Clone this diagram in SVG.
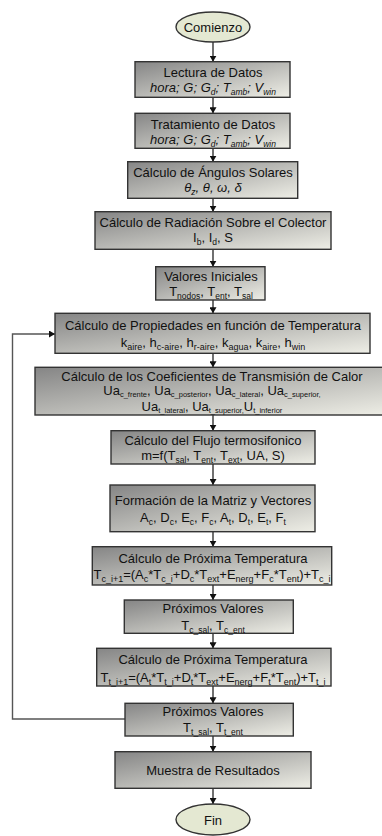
<svg xmlns="http://www.w3.org/2000/svg" width="382" height="836" viewBox="0 0 382 836">
<defs>
<linearGradient id="g" x1="0" y1="0" x2="1" y2="1">
<stop offset="0" stop-color="#858585"/>
<stop offset="1" stop-color="#eeeee6"/>
</linearGradient>
<marker id="ah" markerWidth="6" markerHeight="7" refX="6" refY="3.5" orient="auto" markerUnits="userSpaceOnUse">
<path d="M0,0 L6,3.5 L0,7 z" fill="#111"/>
</marker>
</defs>
<style>
.box{fill:url(#g);stroke:#333;stroke-width:1.4}
.term{fill:#e4e8d2;stroke:#333;stroke-width:1.4}
text{font-family:"Liberation Sans",Arial,sans-serif;font-size:13px;fill:#111;text-anchor:middle}
.it{font-style:italic}
.s{font-size:8.5px;baseline-shift:-3px}
.s7{font-size:7.5px;baseline-shift:-2px}
.s9{font-size:9px;baseline-shift:-3px}
.c{stroke:#111;stroke-width:1.2;fill:none;marker-end:url(#ah)}
.loop{stroke:#555;stroke-width:1.4;fill:none;marker-end:url(#ah)}
</style>
<g id="connectors">
<line class="c" x1="213" y1="42" x2="213" y2="61.7"/>
<line class="c" x1="213" y1="97.3" x2="213" y2="113.3"/>
<line class="c" x1="213" y1="148.3" x2="213" y2="161.7"/>
<line class="c" x1="213" y1="198.3" x2="213" y2="211.7"/>
<line class="c" x1="213" y1="249.3" x2="213" y2="266.7"/>
<line class="c" x1="213" y1="300" x2="213" y2="313.3"/>
<line class="c" x1="213" y1="353.3" x2="213" y2="367.3"/>
<line class="c" x1="213" y1="415" x2="213" y2="430.7"/>
<line class="c" x1="213" y1="464" x2="213" y2="485"/>
<line class="c" x1="213" y1="531.7" x2="213" y2="546.7"/>
<line class="c" x1="213" y1="585" x2="213" y2="600"/>
<line class="c" x1="213" y1="633.3" x2="213" y2="648.3"/>
<line class="c" x1="213" y1="686" x2="213" y2="703.3"/>
<line class="c" x1="213" y1="736" x2="213" y2="751.7"/>
<line class="c" x1="213" y1="788.3" x2="213" y2="804"/>
<path class="loop" d="M125,719 H12.5 V334 H55"/>
</g>
<g id="comienzo">
<ellipse class="term" cx="213" cy="27" rx="37" ry="15"/>
<text x="213" y="32">Comienzo</text>
</g>
<g id="lectura">
<rect class="box" x="135" y="61.7" width="155" height="35.6"/>
<text x="213" y="77">Lectura de Datos</text>
<text class="it" x="213" y="92">hora; G; G<tspan class="s">d</tspan>; T<tspan class="s">amb</tspan>; V<tspan class="s">win</tspan></text>
</g>
<g id="tratamiento">
<rect class="box" x="135" y="113.3" width="155" height="35"/>
<text x="213" y="129">Tratamiento de Datos</text>
<text class="it" x="213" y="144">hora; G; G<tspan class="s">d</tspan>; T<tspan class="s">amb</tspan>; V<tspan class="s">win</tspan></text>
</g>
<g id="angulos">
<rect class="box" x="127.7" y="161.7" width="170" height="36.6"/>
<text x="213" y="176.5">Cálculo de Ángulos Solares</text>
<text class="it" x="213" y="192">θ<tspan class="s">z</tspan>, θ, ω, δ</text>
</g>
<g id="radiacion">
<rect class="box" x="95" y="211.7" width="236" height="37.6"/>
<text x="213" y="226.5">Cálculo de Radiación Sobre el Colector</text>
<text x="213" y="242">I<tspan class="s">b</tspan>, I<tspan class="s">d</tspan>, S</text>
</g>
<g id="iniciales">
<rect class="box" x="155.7" y="266.7" width="109.3" height="33.3"/>
<text x="211" y="280.5">Valores Iniciales</text>
<text x="211" y="296">T<tspan class="s">nodos</tspan>, T<tspan class="s">ent</tspan>, T<tspan class="s">sal</tspan></text>
</g>
<g id="propiedades">
<rect class="box" x="55" y="313.3" width="315" height="40"/>
<text x="213" y="330">Cálculo de Propiedades en función de Temperatura</text>
<text x="213" y="346.5">k<tspan class="s9">aire</tspan>, h<tspan class="s9">c-aire</tspan>, h<tspan class="s9">r-aire</tspan>, k<tspan class="s9">agua</tspan>, k<tspan class="s9">aire</tspan>, h<tspan class="s9">win</tspan></text>
</g>
<g id="coeficientes">
<rect class="box" x="35" y="367.3" width="354" height="47.7"/>
<text x="212" y="380.5">Cálculo de los Coeficientes de Transmisión de Calor</text>
<text x="212" y="395">Ua<tspan class="s7">c_frente</tspan>, Ua<tspan class="s7">c_posterior</tspan>, Ua<tspan class="s7">c_lateral</tspan>, Ua<tspan class="s7">c_superior,</tspan></text>
<text x="212" y="410.8">Ua<tspan class="s7">t_lateral</tspan>, Ua<tspan class="s7">t_superior,</tspan>U<tspan class="s7">t_inferior</tspan></text>
</g>
<g id="flujo">
<rect class="box" x="111" y="430.7" width="204" height="33.3"/>
<text x="213" y="445">Cálculo del Flujo termosifonico</text>
<text x="213" y="460">m=f(T<tspan class="s">sal</tspan>, T<tspan class="s">ent</tspan>, T<tspan class="s">ext</tspan>, UA, S)</text>
</g>
<g id="formacion">
<rect class="box" x="110" y="485" width="205" height="46.7"/>
<text x="213" y="504.5">Formación de la Matriz y Vectores</text>
<text x="213" y="521.5">A<tspan class="s">c</tspan>, D<tspan class="s">c</tspan>, E<tspan class="s">c</tspan>, F<tspan class="s">c</tspan>, A<tspan class="s">t</tspan>, D<tspan class="s">t</tspan>, E<tspan class="s">t</tspan>, F<tspan class="s">t</tspan></text>
</g>
<g id="proxima_c">
<rect class="box" x="92.3" y="546.7" width="239.4" height="38.3"/>
<text x="213" y="563">Cálculo de Próxima Temperatura</text>
<text x="212" y="578.5">T<tspan class="s9">c_i+1</tspan>=(A<tspan class="s9">c</tspan>*T<tspan class="s9">c_i</tspan>+D<tspan class="s9">c</tspan>*T<tspan class="s9">ext</tspan>+E<tspan class="s9">nerg</tspan>+F<tspan class="s9">c</tspan>*T<tspan class="s9">ent</tspan>)+T<tspan class="s9">c_i</tspan></text>
</g>
<g id="proximos_c">
<rect class="box" x="124.3" y="600" width="169" height="33.3"/>
<text x="213" y="613">Próximos Valores</text>
<text x="213" y="629.5">T<tspan class="s">c_sal</tspan>, T<tspan class="s">c_ent</tspan></text>
</g>
<g id="proxima_t">
<rect class="box" x="96.7" y="648.3" width="234.3" height="37.7"/>
<text x="213" y="664">Cálculo de Próxima Temperatura</text>
<text x="213" y="681.5">T<tspan class="s9">t_i+1</tspan>=(A<tspan class="s9">t</tspan>*T<tspan class="s9">t_i</tspan>+D<tspan class="s9">t</tspan>*T<tspan class="s9">ext</tspan>+E<tspan class="s9">nerg</tspan>+F<tspan class="s9">t</tspan>*T<tspan class="s9">ent</tspan>)+T<tspan class="s9">t_i</tspan></text>
</g>
<g id="proximos_t">
<rect class="box" x="125" y="703.3" width="168.3" height="32.7"/>
<text x="213" y="715.5">Próximos Valores</text>
<text x="213" y="732">T<tspan class="s">t_sal</tspan>, T<tspan class="s">t_ent</tspan></text>
</g>
<g id="muestra">
<rect class="box" x="115" y="751.7" width="196" height="36.6"/>
<text x="213" y="774.5">Muestra de Resultados</text>
</g>
<g id="fin">
<ellipse class="term" cx="213" cy="819.5" rx="37" ry="15.5"/>
<text x="213" y="825">Fin</text>
</g>
</svg>
